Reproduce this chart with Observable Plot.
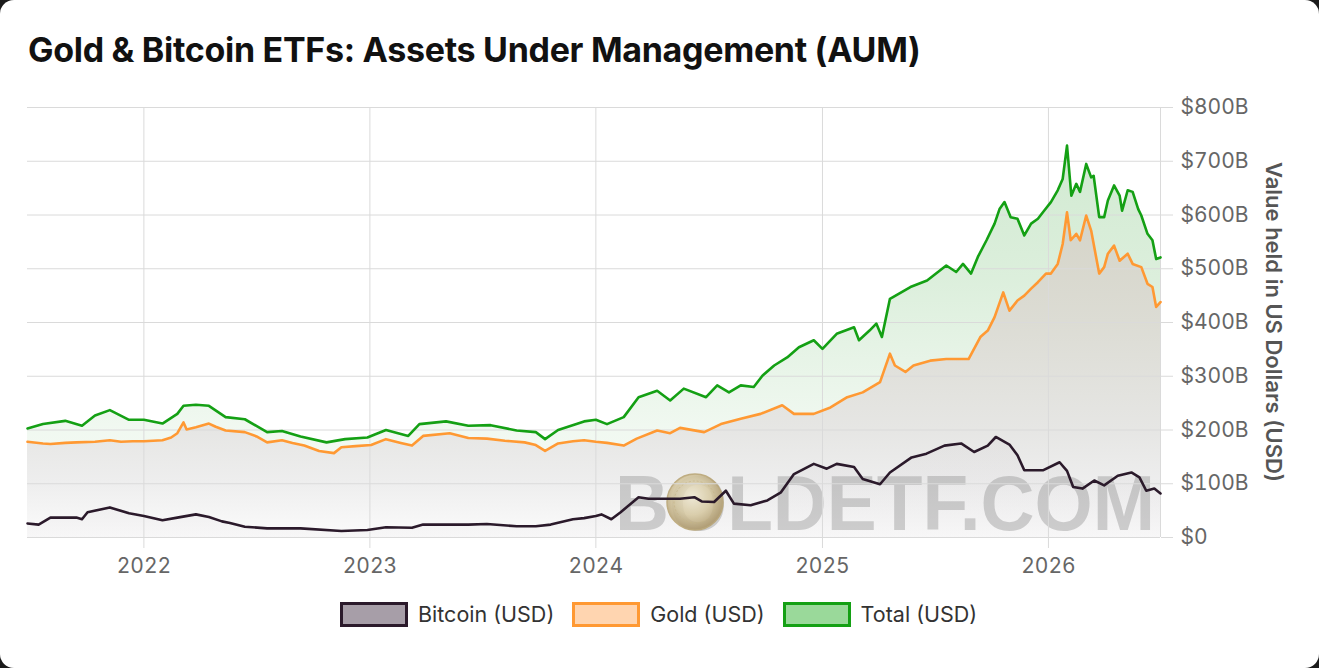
<!DOCTYPE html>
<html>
<head>
<meta charset="utf-8">
<script src="https://cdn.jsdelivr.net/npm/d3@7"></script>
<script src="https://cdn.jsdelivr.net/npm/@observablehq/plot@0.6"></script>
<style>
  html, body { margin: 0; padding: 0; background: #1b1b1b; }
  #card { position: relative; width: 1319px; height: 668px; background: #fff; border-radius: 14px; overflow: hidden; font-family: Inter, "DejaVu Sans", sans-serif; }
  #title { position: absolute; left: 28px; top: 29px; font-size: 34px; font-weight: 700; color: #111; white-space: nowrap; letter-spacing: -0.3px; }
  #chart { position: absolute; left: 0; top: 80px; }
  #ylabel { position: absolute; left: 1261px; top: 322px; transform: translateY(-50%); writing-mode: vertical-rl; font-size: 22px; font-weight: 600; color: #555; white-space: nowrap; }
  #legend { position: absolute; left: 340px; top: 601px; display: flex; align-items: center; font-size: 21.5px; color: #333; }
  .item { display: flex; align-items: center; margin-right: 18px; }
  .box { width: 68px; height: 25px; box-sizing: border-box; border: 3px solid; margin-right: 10px; }
</style>
</head>
<body>
<div id="card">
  <div id="title">Gold &amp; Bitcoin ETFs: Assets Under Management (AUM)</div>
  <div id="chart"></div>
  <div id="ylabel">Value held in US Dollars (USD)</div>
  <div id="legend"></div>
</div>
<script>
// ---- Data (values in billions of USD) ----
const seriesNames = ["Bitcoin (USD)", "Gold (USD)", "Total (USD)"];

const btcDates = ["2021-06-27","2021-07-15","2021-08-03","2021-09-14","2021-09-23","2021-10-02","2021-11-07","2021-12-08","2022-01-01","2022-01-31","2022-02-24","2022-03-26","2022-04-16","2022-05-07","2022-05-20","2022-06-13","2022-07-19","2022-09-11","2022-11-16","2022-12-28","2023-01-27","2023-03-10","2023-03-28","2023-06-09","2023-07-09","2023-08-26","2023-09-26","2023-10-20","2023-11-25","2023-12-13","2024-01-01","2024-01-10","2024-01-26","2024-02-10","2024-03-10","2024-03-26","2024-04-09","2024-05-16","2024-06-08","2024-06-20","2024-07-10","2024-07-29","2024-08-11","2024-09-07","2024-10-04","2024-10-26","2024-11-16","2024-12-18","2025-01-08","2025-01-24","2025-02-21","2025-03-07","2025-04-04","2025-04-20","2025-05-25","2025-06-18","2025-07-17","2025-08-13","2025-09-03","2025-09-25","2025-10-08","2025-10-30","2025-11-12","2025-11-23","2025-12-23","2026-01-19","2026-01-31","2026-02-10","2026-02-25","2026-03-16","2026-04-01","2026-04-23","2026-05-15","2026-05-28","2026-06-08","2026-06-21","2026-07-01"];
const btcValues = [26,24,37,37,34,47,56,45,40,32,37,43,38,30,27,20,17,17,12,14,19,18,24,24,25,21,21,24,34,36,40,43,34,47,75,72,72,72,75,67,66,87,63,60,69,84,118,137,128,137,131,109,99,121,149,156,171,175,159,171,187,173,153,125,125,140,124,94,91,106,97,115,121,112,87,91,82];

const goldDates = ["2021-06-27","2021-07-22","2021-08-03","2021-08-27","2021-09-14","2021-10-14","2021-11-07","2021-11-25","2021-12-14","2022-01-01","2022-01-31","2022-02-14","2022-02-24","2022-03-06","2022-03-11","2022-03-26","2022-04-16","2022-04-27","2022-05-13","2022-06-13","2022-07-02","2022-07-19","2022-08-12","2022-08-29","2022-09-17","2022-10-11","2022-11-04","2022-11-16","2022-12-09","2023-01-03","2023-01-27","2023-02-20","2023-03-10","2023-03-28","2023-05-10","2023-06-09","2023-07-09","2023-08-07","2023-09-08","2023-09-26","2023-10-11","2023-11-01","2023-11-25","2023-12-13","2024-01-01","2024-01-19","2024-02-15","2024-03-07","2024-04-09","2024-04-30","2024-05-16","2024-06-24","2024-07-21","2024-08-22","2024-09-23","2024-10-28","2024-11-16","2024-12-18","2025-01-14","2025-02-10","2025-03-07","2025-04-04","2025-04-20","2025-04-28","2025-05-15","2025-05-28","2025-06-24","2025-07-20","2025-08-25","2025-09-13","2025-09-25","2025-10-06","2025-10-20","2025-10-30","2025-11-12","2025-11-23","2025-12-04","2025-12-15","2025-12-28","2026-01-05","2026-01-16","2026-01-24","2026-01-31","2026-02-06","2026-02-15","2026-02-21","2026-03-03","2026-03-11","2026-03-24","2026-04-01","2026-04-07","2026-04-17","2026-04-26","2026-05-09","2026-05-17","2026-05-31","2026-06-10","2026-06-18","2026-06-24","2026-07-01"];
const goldValues = [178,175,174,176,177,178,181,178,179,179,181,186,194,214,201,205,212,206,199,196,188,177,181,176,171,161,157,168,170,172,183,176,171,189,194,185,184,180,177,172,161,175,179,181,178,176,171,184,199,194,204,196,211,221,230,246,230,230,242,261,270,289,342,320,308,320,329,332,332,373,385,410,456,422,441,450,463,475,491,491,509,546,605,553,565,553,599,571,491,503,528,543,515,528,509,503,472,466,429,438];

const totalDates = ["2021-06-27","2021-07-22","2021-08-27","2021-09-23","2021-10-14","2021-11-07","2021-12-08","2022-01-01","2022-01-31","2022-02-24","2022-03-06","2022-03-26","2022-04-16","2022-05-13","2022-06-13","2022-07-19","2022-08-12","2022-09-11","2022-10-23","2022-11-22","2022-12-28","2023-01-27","2023-03-04","2023-03-22","2023-05-04","2023-06-09","2023-07-15","2023-08-26","2023-09-26","2023-10-11","2023-11-01","2023-12-13","2024-01-01","2024-01-19","2024-02-15","2024-03-10","2024-04-09","2024-04-30","2024-05-22","2024-06-27","2024-07-15","2024-08-03","2024-08-22","2024-09-12","2024-09-26","2024-10-15","2024-11-05","2024-11-24","2024-12-18","2025-01-01","2025-01-24","2025-02-21","2025-03-01","2025-03-18","2025-03-29","2025-04-07","2025-04-20","2025-05-23","2025-06-19","2025-07-20","2025-08-05","2025-08-16","2025-08-29","2025-09-09","2025-09-23","2025-10-06","2025-10-14","2025-10-22","2025-11-01","2025-11-12","2025-11-23","2025-12-04","2025-12-15","2025-12-25","2026-01-05","2026-01-16","2026-01-24","2026-01-31","2026-02-07","2026-02-15","2026-02-21","2026-03-03","2026-03-11","2026-03-15","2026-03-24","2026-04-01","2026-04-07","2026-04-17","2026-04-26","2026-04-30","2026-05-09","2026-05-17","2026-05-26","2026-05-31","2026-06-10","2026-06-18","2026-06-24","2026-07-01"];
const totalValues = [203,211,217,208,227,237,219,219,212,230,245,247,245,224,220,196,198,188,177,183,186,200,189,211,216,208,209,199,196,183,200,216,219,211,224,261,273,255,277,261,283,270,283,280,301,320,335,354,367,351,379,391,367,385,398,373,444,466,478,506,494,509,491,522,553,584,611,624,596,593,562,584,593,608,624,646,667,729,636,658,643,695,670,673,596,596,627,655,636,608,646,643,611,599,565,553,518,521];

const yTicks = [0, 100, 200, 300, 400, 500, 600, 700, 800];
const yearTicks = ["2022-01-01","2023-01-01","2024-01-01","2025-01-01","2026-01-01"];
const xDomainDates = ["2021-06-27","2026-07-01"];

const colors = { btc: "#2b1a2b", gold: "#ff9933", total: "#14a014" };
const legendFill = { btc: "#a79ea8", gold: "#ffd5b0", total: "#9ad99a" };

// ---- Build tables ----
const parse = d3.utcParse("%Y-%m-%d");
const toRows = (dates, values) => dates.map((d, i) => ({date: parse(d), value: values[i]}));
const btc = toRows(btcDates, btcValues);
const gold = toRows(goldDates, goldValues);
const total = toRows(totalDates, totalValues);
const xDomain = xDomainDates.map(parse);
const yearTickDates = yearTicks.map(parse);

const NS = "http://www.w3.org/2000/svg";
function el(name, attrs) {
  const e = document.createElementNS(NS, name);
  for (const k in attrs) e.setAttribute(k, attrs[k]);
  return e;
}

// gradients defined in plot space
function defsMark(index, scales) {
  const y0 = scales.y(800), y1 = scales.y(0);
  const defs = el("defs", {});
  const mk = (id, stops) => {
    const g = el("linearGradient", {id, gradientUnits: "userSpaceOnUse", x1: 0, x2: 0, y1: y0, y2: y1});
    for (const [o, c, a] of stops) g.appendChild(el("stop", {offset: o, "stop-color": c, "stop-opacity": a}));
    defs.appendChild(g);
  };
  mk("gTotal", [[0, "#32a032", 0.24], [0.4, "#32a032", 0.17], [0.75, "#32a032", 0.07], [1, "#32a032", 0.03]]);
  mk("gGold", [[0, "#cccab9", 1], [0.25, "#d5d4c8", 1], [0.5, "#dcdcd4", 1], [0.75, "#e6e6e4", 1], [0.875, "#eeeeee", 1], [1, "#fbfbfb", 1]]);
  mk("gBtc", [[0, "#3a203a", 0.05], [1, "#3a203a", 0.02]]);
  const rg = el("radialGradient", {id: "coin", cx: "0.45", cy: "0.4", r: "0.6"});
  [[0, "#efe8d2"], [0.55, "#d6c8a0"], [1, "#ab9566"]].forEach(([o, c]) => rg.appendChild(el("stop", {offset: o, "stop-color": c})));
  defs.appendChild(rg);
  return defs;
}

// watermark
function watermarkMark(index, scales, values, dims) {
  const g = el("g", {"aria-label": "watermark"});
  const t = el("text", {x: 615, y: 450, "text-anchor": "start", "font-family": "'Liberation Sans', Arial, sans-serif", "font-weight": "bold", "font-size": 78, fill: "#8f8f8f", "fill-opacity": 0.4, textLength: 540, lengthAdjust: "spacingAndGlyphs"});
  t.textContent = "BOLDETF.COM";
  g.appendChild(t);
  g.appendChild(el("circle", {cx: 695, cy: 422, r: 28, fill: "url(#coin)", stroke: "#b7a26f", "stroke-width": 1.5, opacity: 0.85}));
  g.appendChild(el("circle", {cx: 695, cy: 422, r: 21, fill: "none", stroke: "#c4b486", "stroke-width": 1, "stroke-dasharray": "2 2", opacity: 0.7}));
  return g;
}

const chart = Plot.plot({
  width: 1319,
  height: 510,
  marginLeft: 27,
  marginRight: 159,
  marginTop: 27,
  marginBottom: 53,
  style: {fontFamily: "Inter, 'DejaVu Sans', sans-serif", fontSize: "21px", color: "#666", background: "transparent", overflow: "visible"},
  x: {type: "utc", domain: xDomain},
  y: {domain: [0, 800]},
  marks: [
    defsMark,
    Plot.areaY(total, {x: "date", y: "value", fill: "url(#gTotal)"}),
    Plot.areaY(gold, {x: "date", y: "value", fill: "url(#gGold)"}),
    Plot.areaY(btc, {x: "date", y: "value", fill: "url(#gBtc)"}),
    watermarkMark,
    Plot.gridX({ticks: yearTickDates, stroke: "#dadada", strokeOpacity: 1}),
    Plot.gridY({ticks: yTicks, stroke: "#dadada", strokeOpacity: 1}),
    Plot.ruleX([xDomain[1]], {stroke: "#dadada"}),
    Plot.axisX({ticks: yearTickDates, tickFormat: "%Y", tickSize: 11, tickPadding: 10, stroke: "#dadada", fill: "#666", label: null}),
    Plot.axisY({anchor: "right", ticks: yTicks, tickFormat: d => d === 0 ? "$0" : `$${d}B`, tickSize: 12, tickPadding: 8, stroke: "#dadada", fill: "#666", label: null}),
    Plot.line(btc, {x: "date", y: "value", stroke: colors.btc, strokeWidth: 2.6}),
    Plot.line(gold, {x: "date", y: "value", stroke: colors.gold, strokeWidth: 2.6}),
    Plot.line(total, {x: "date", y: "value", stroke: colors.total, strokeWidth: 2.6})
  ]
});
document.getElementById("chart").appendChild(chart);

// legend
const keys = ["btc", "gold", "total"];
const legend = document.getElementById("legend");
keys.forEach((k, i) => {
  const item = document.createElement("div");
  item.className = "item";
  const box = document.createElement("div");
  box.className = "box";
  box.style.background = legendFill[k];
  box.style.borderColor = colors[k];
  const label = document.createElement("span");
  label.textContent = seriesNames[i];
  item.appendChild(box);
  item.appendChild(label);
  legend.appendChild(item);
});
</script>
</body>
</html>
